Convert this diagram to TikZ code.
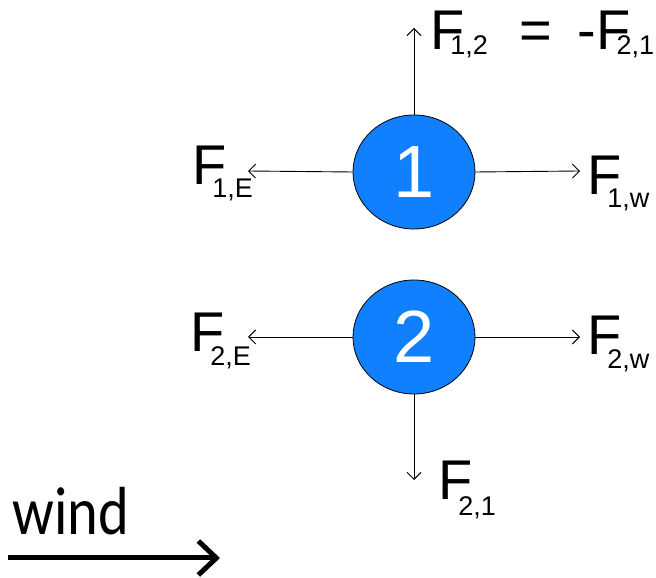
\documentclass[tikz,border=0pt]{standalone}
\usepackage{fontspec}
\setmainfont{Liberation Sans}
\newfontfamily\windfont{Carlito}
\usetikzlibrary{arrows.meta,shapes.geometric,positioning}
\definecolor{particleBlue}{RGB}{16,128,255}
\newcommand{\Flab}[3]{F\kern#1\raisebox{-#2}{\fontsize{27}{27}\selectfont #3}}
\tikzset{
  particle/.style={
    ellipse, draw=black, line width=0.8pt, fill=particleBlue,
    minimum width=122pt, minimum height=114pt, inner sep=0pt,
    text=white, font=\fontsize{74}{74}\selectfont
  },
  forceArrow/.style={-{Straight Barb[length=7pt,width=14pt]}, line width=0.9pt},
  windArrow/.style={-{Straight Barb[length=18pt,width=34pt]}, line width=5pt},
  forceLabel/.style={anchor=base west, inner sep=0pt, font=\fontsize{56}{56}\selectfont}
}
\begin{document}
\begin{tikzpicture}[x=1pt,y=1pt]
  \useasboundingbox (0,0) rectangle (656,578);
  % particles
  \node[particle] (p1) at (414,406) {1};
  \node[particle] (p2) at (414,241) {2};
  % arrow ends
  \coordinate (f12) at (414,550);
  \coordinate (f1e) at (248,407);
  \coordinate (f1w) at (580,407);
  \coordinate (f2e) at (248,241);
  \coordinate (f2w) at (580,241);
  \coordinate (f21) at (414,98);
  \draw[forceArrow] (p1.north) -- (f12);
  \draw[forceArrow] (p1.west) -- (f1e);
  \draw[forceArrow] (p1.east) -- (f1w);
  \draw[forceArrow] (p2.west) -- (f2e);
  \draw[forceArrow] (p2.east) -- (f2w);
  \draw[forceArrow] (p2.south) -- (f21);
  % labels
  \node[forceLabel] (l12) at (430,528)
    {\Flab{-14pt}{5pt}{1,2}\hspace{32pt}=\hspace{25pt}-\Flab{-14pt}{5pt}{2,1}};
  \node[forceLabel] (l1e) at (192,393) {\Flab{-14pt}{13pt}{1,E}};
  \node[forceLabel] (l1w) at (587,383) {\Flab{-14pt}{13pt}{1,w}};
  \node[forceLabel] (l2e) at (190,226) {\Flab{-14pt}{14pt}{2,E}};
  \node[forceLabel] (l2w) at (587,223) {\Flab{-14pt}{14pt}{2,w}};
  \node[forceLabel] (l21) at (438,78) {\Flab{-14pt}{16pt}{2,1}};
  % wind
  \node[anchor=base west, inner sep=0pt, font=\windfont\fontsize{68}{68}\selectfont] (wind) at (12,43)
    {\scalebox{0.86}[1]{wind}};
  \coordinate (w0) at (8,20);
  \coordinate (w1) at (220,20);
  \draw[windArrow] (w0) -- (w1);
\end{tikzpicture}
\end{document}
